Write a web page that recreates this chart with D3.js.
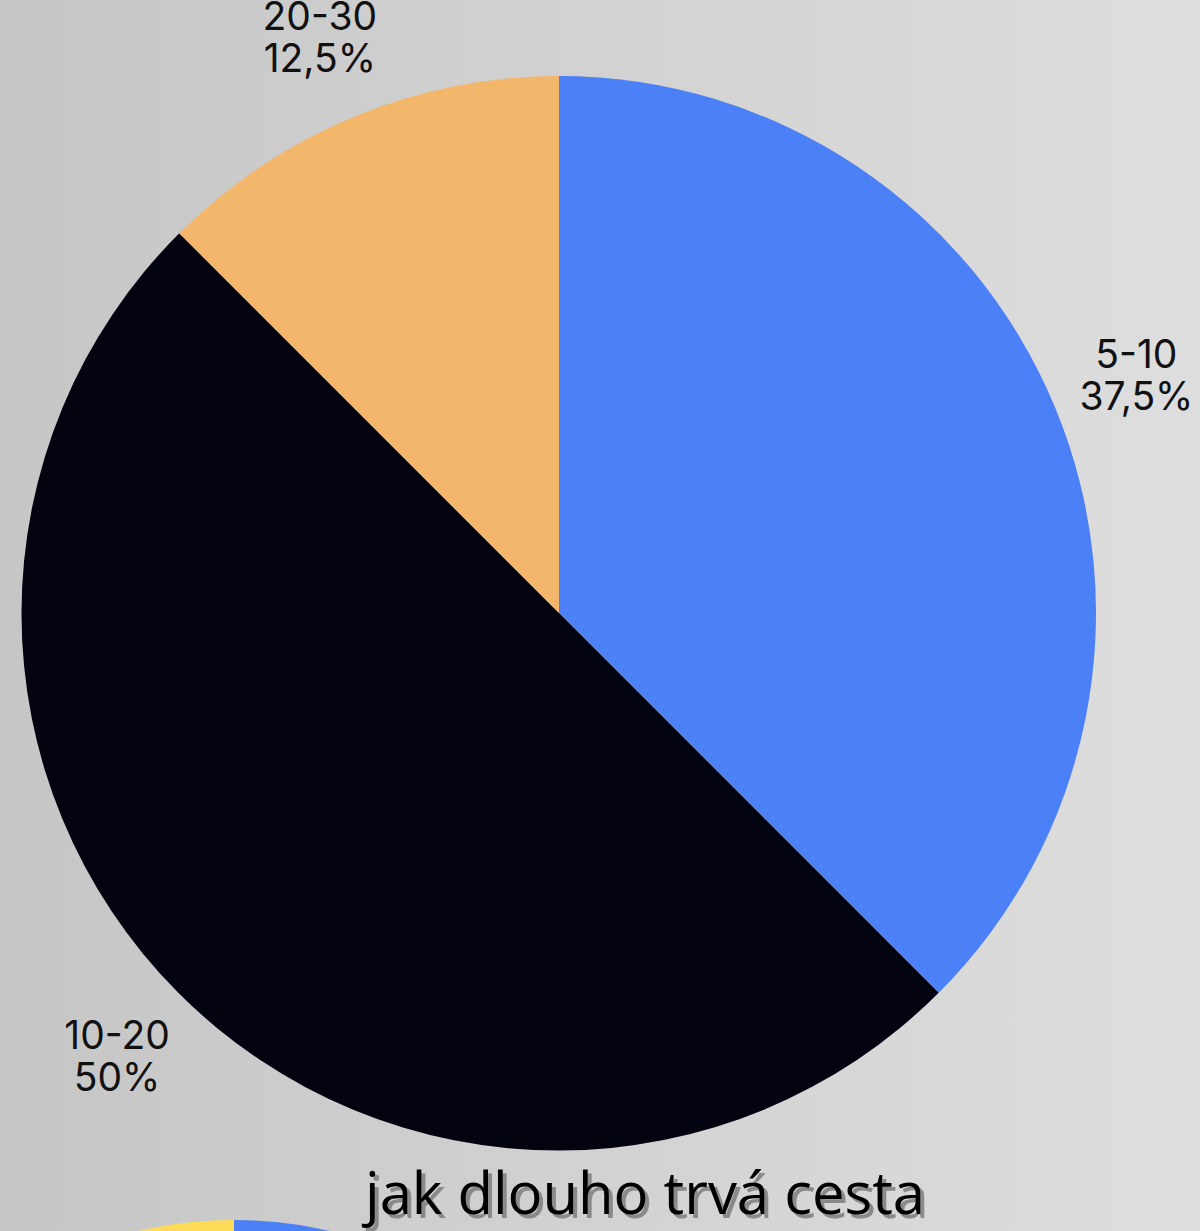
<!DOCTYPE html>
<html>
<head>
<meta charset="utf-8">
<script src="https://cdn.jsdelivr.net/npm/d3@7"></script>
<style>
  html, body { margin: 0; padding: 0; }
  svg { display: block; }
</style>
</head>
<body>
<div id="chart"></div>
<script>
// travel time categories (minutes) and shares
var categories = ['5-10', '10-20', '20-30']
var shares = [37.5, 50, 12.5]
var shareLabels = ['37,5%', '50%', '12,5%']
var colors = ['#4c80f6', '#03040f', '#f3b76b']

// next chart below, only its top edge shows
var nextShares = [50, 50]
var nextColors = ['#4c80f6', '#ffdc58']

var title = 'jak dlouho trvá cesta'

var width = 1200
var height = 1231

var cx = 559
var cy = 613
var radius = 537
var labelRadius = 625

var svg = d3.select('#chart').append('svg')
  .attr('width', width)
  .attr('height', height)

var defs = svg.append('defs')
var grad = defs.append('linearGradient')
  .attr('id', 'bg')
  .attr('x1', 0).attr('x2', 1).attr('y1', 0).attr('y2', 0)
grad.append('stop').attr('offset', '0%').attr('stop-color', '#c6c6c6')
grad.append('stop').attr('offset', '100%').attr('stop-color', '#dedede')

svg.append('rect')
  .attr('width', width)
  .attr('height', height)
  .attr('fill', 'url(#bg)')

var pie = d3.pie().sort(null).value(function (d) { return d })
var arc = d3.arc().innerRadius(0).outerRadius(radius)
var labelArc = d3.arc().innerRadius(labelRadius).outerRadius(labelRadius)

var g = svg.append('g').attr('transform', 'translate(' + cx + ',' + cy + ')')
var arcs = pie(shares)

g.selectAll('path')
  .data(arcs)
  .enter().append('path')
  .attr('d', arc)
  .attr('fill', function (d, i) { return colors[i] })

var labels = g.selectAll('text.lbl')
  .data(arcs)
  .enter().append('text')
  .attr('class', 'lbl')
  .attr('text-anchor', 'middle')
  .attr('font-family', 'Inter, "Noto Sans", sans-serif')
  .attr('font-size', 39)
  .attr('font-weight', 400)
  .attr('fill', '#111')
  .attr('transform', function (d) {
    var p = labelArc.centroid(d)
    return 'translate(' + p[0] + ',' + p[1] + ')'
  })

labels.append('tspan')
  .attr('x', 0)
  .attr('y', -6)
  .text(function (d, i) { return categories[i] })

labels.append('tspan')
  .attr('x', 0)
  .attr('y', 36)
  .text(function (d, i) { return shareLabels[i] })

// second pie, cut off by the bottom edge
var nextRadius = 423
var nextArc = d3.arc().innerRadius(0).outerRadius(nextRadius)
svg.append('g')
  .attr('transform', 'translate(234,' + (1220 + nextRadius) + ')')
  .selectAll('path')
  .data(pie(nextShares))
  .enter().append('path')
  .attr('d', nextArc)
  .attr('fill', function (d, i) { return nextColors[i] })

// title with drop shadow
var titleX = 365
var titleY = 1214
var titleSize = 58
svg.append('text')
  .attr('x', titleX + 4)
  .attr('y', titleY + 4)
  .attr('font-family', '"Open Sans", "Noto Sans", sans-serif')
  .attr('font-size', titleSize)
  .attr('fill', '#8a8a8a')
  .text(title)

svg.append('text')
  .attr('x', titleX)
  .attr('y', titleY)
  .attr('font-family', '"Open Sans", "Noto Sans", sans-serif')
  .attr('font-size', titleSize)
  .attr('fill', '#000')
  .text(title)
</script>
</body>
</html>
